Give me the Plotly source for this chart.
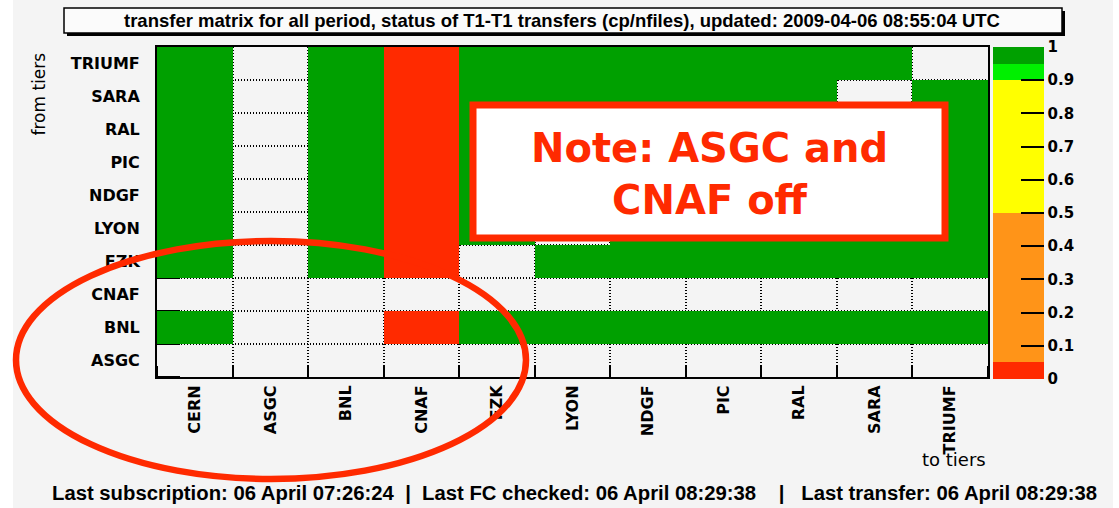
import plotly.graph_objects as go

# ---------------- data ----------------
to_tiers = ["CERN", "ASGC", "BNL", "CNAF", "FZK", "LYON", "NDGF", "PIC", "RAL", "SARA", "TRIUMF"]
from_tiers = ["ASGC", "BNL", "CNAF", "FZK", "LYON", "NDGF", "PIC", "RAL", "SARA", "TRIUMF"]

# fraction of successful transfers (cp/nfiles); None = no transfers
row_ASGC   = [None, None, None, None, None, None, None, None, None, None, None]
row_BNL    = [1, None, None, 0, 1, 1, 1, 1, 1, 1, 1]
row_CNAF   = [None, None, None, None, None, None, None, None, None, None, None]
row_FZK    = [1, None, 1, 0, None, 1, 1, 1, 1, 1, 1]
row_LYON   = [1, None, 1, 0, 1, None, 1, 1, 1, 1, 1]
row_NDGF   = [1, None, 1, 0, 1, 1, None, 1, 1, 1, 1]
row_PIC    = [1, None, 1, 0, 1, 1, 1, None, 1, 1, 1]
row_RAL    = [1, None, 1, 0, 1, 1, 1, 1, None, 1, 1]
row_SARA   = [1, None, 1, 0, 1, 1, 1, 1, 1, None, 1]
row_TRIUMF = [1, None, 1, 0, 1, 1, 1, 1, 1, 1, None]

z = [row_ASGC, row_BNL, row_CNAF, row_FZK, row_LYON, row_NDGF,
     row_PIC, row_RAL, row_SARA, row_TRIUMF]

cbar_vals = [0, 0.1, 0.2, 0.3, 0.4, 0.5, 0.6, 0.7, 0.8, 0.9, 1]
cbar_text = ["0", "0.1", "0.2", "0.3", "0.4", "0.5", "0.6", "0.7", "0.8", "0.9", "1"]

title_text = "transfer matrix for all period, status of T1-T1 transfers (cp/nfiles), updated: 2009-04-06 08:55:04 UTC"
footer_text = ("Last subscription: 06 April 07:26:24  |  Last FC checked: 06 April 08:29:38"
               "    |   Last transfer: 06 April 08:29:38")
note_text = "Note: ASGC and<br>CNAF off"

# ---------------- layout helpers ----------------
W, H = 1119, 508
L, R, T, B = 157, 988, 47, 377


def px(x):
    return (x - L) / (R - L)


def py(y):
    return (B - y) / (B - T)


RED = "#FF2A00"
ORANGE = "#FF9418"
YELLOW = "#FFFF00"
LIME = "#00F000"
GREEN = "#00A000"
BG = "#F4F4F4"

colorscale = [
    [0.0, RED], [0.05, RED],
    [0.05, ORANGE], [0.5, ORANGE],
    [0.5, YELLOW], [0.9, YELLOW],
    [0.9, LIME], [0.95, LIME],
    [0.95, GREEN], [1.0, GREEN],
]

bold_font = dict(family="DejaVu Sans", size=16, color="black", weight="bold")
cbar_font = dict(family="DejaVu Sans", size=15, color="black", weight="bold")

fig = go.Figure(
    go.Heatmap(
        z=z,
        x=list(range(len(to_tiers))),
        y=list(range(len(from_tiers))),
        zmin=0, zmax=1,
        colorscale=colorscale,
        hoverongaps=False,
        colorbar=dict(
            x=px(993), xanchor="left", xpad=0,
            y=1, yanchor="top", ypad=0,
            len=(379 - 47) / (B - T), lenmode="fraction",
            thickness=51, thicknessmode="pixels",
            outlinewidth=0,
            ticks="inside", ticklen=23, tickwidth=2, tickcolor="black",
            tickmode="array", tickvals=cbar_vals, ticktext=cbar_text,
            tickfont=cbar_font,
        ),
    )
)

n_x = len(to_tiers)
n_y = len(from_tiers)

grid_style = dict(showgrid=True, gridcolor="black", gridwidth=1.5, griddash="1px,2px")

fig.update_xaxes(
    range=[-0.5, n_x - 0.5],
    tickmode="array", tickvals=list(range(n_x)), ticktext=to_tiers,
    tickangle=-90, tickfont=bold_font, ticks="",
    showgrid=False, zeroline=False,
    showline=True, linecolor="black", linewidth=2, mirror=True,
    layer="below traces",
    minor=dict(tickmode="array", tickvals=[i - 0.5 for i in range(n_x + 1)],
               ticks="inside", ticklen=11, tickwidth=2, tickcolor="black", **grid_style),
)
fig.update_yaxes(
    range=[-0.5, n_y - 0.5],
    tickmode="array", tickvals=list(range(n_y)), ticktext=from_tiers,
    tickfont=bold_font, ticks="", ticklabelstandoff=12,
    showgrid=False, zeroline=False,
    showline=True, linecolor="black", linewidth=2, mirror=True,
    layer="below traces",
    minor=dict(tickmode="array", tickvals=[i - 0.5 for i in range(n_y + 1)],
               ticks="inside", ticklen=23, tickwidth=2, tickcolor="black", **grid_style),
)

shapes = [
    # grey canvas
    dict(type="rect", xref="paper", yref="paper", layer="below",
         x0=px(13), x1=px(1113), y0=py(H + 5), y1=py(-5),
         fillcolor=BG, line=dict(width=0)),
    # title box shadow
    dict(type="rect", xref="paper", yref="paper", layer="above",
         x0=px(67), x1=px(1065), y0=py(36), y1=py(11),
         fillcolor="black", line=dict(width=0)),
    # title box
    dict(type="rect", xref="paper", yref="paper", layer="above",
         x0=px(64), x1=px(1062), y0=py(33), y1=py(8),
         fillcolor="#FBFBFB", line=dict(color="black", width=1.5)),
    # note box
    dict(type="rect", xref="paper", yref="paper", layer="above",
         x0=px(473), x1=px(945), y0=py(238), y1=py(105),
         fillcolor="white", line=dict(color=RED, width=7)),
    # ellipse
    dict(type="circle", xref="paper", yref="paper", layer="above",
         x0=px(16), x1=px(526), y0=py(479), y1=py(241),
         line=dict(color=RED, width=6.5)),
]

annotations = [
    dict(text=title_text, xref="paper", yref="paper", x=px(562), y=py(20),
         xanchor="center", yanchor="middle", showarrow=False,
         font=dict(family="Liberation Sans", size=18.5, color="black", weight="bold")),
    dict(text=note_text, xref="paper", yref="paper", x=px(709), y=py(174),
         xanchor="center", yanchor="middle", showarrow=False,
         font=dict(family="DejaVu Sans", size=40, color=RED, weight="bold")),
    dict(text="from tiers", xref="paper", yref="paper", x=px(39), y=py(50),
         xanchor="center", yanchor="top", textangle=-90, showarrow=False,
         font=dict(family="DejaVu Sans", size=17, color="black")),
    dict(text="to tiers", xref="paper", yref="paper", x=px(988), y=py(459),
         xanchor="right", yanchor="middle", showarrow=False,
         font=dict(family="DejaVu Sans", size=18, color="black")),
    dict(text=footer_text, xref="paper", yref="paper", x=px(574), y=py(493),
         xanchor="center", yanchor="middle", showarrow=False,
         font=dict(family="Liberation Sans", size=20.3, color="black", weight="bold")),
]

fig.update_layout(
    width=W, height=H, autosize=False,
    margin=dict(l=L, r=W - R, t=T, b=H - B, pad=0),
    paper_bgcolor="white", plot_bgcolor=BG,
    shapes=shapes, annotations=annotations,
    showlegend=False,
)

fig.write_html("out.html",
               config={"displayModeBar": False},
               post_script="document.body.style.margin='0px';document.body.style.padding='0px';")
